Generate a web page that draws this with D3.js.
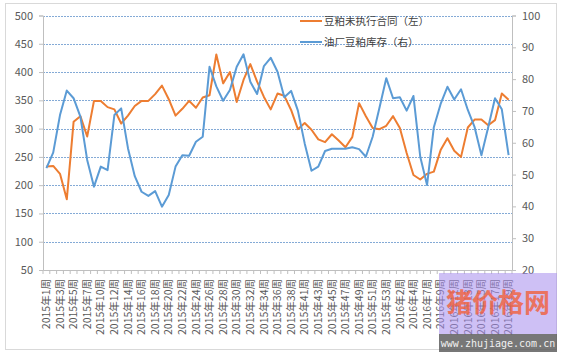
<!DOCTYPE html>
<html><head><meta charset="utf-8">
<script src="https://cdn.jsdelivr.net/npm/d3@7/dist/d3.min.js"></script>
<style>
html,body{margin:0;padding:0;background:#fff;}
svg{display:block;}
text{font-family:"Microsoft YaHei","Noto Sans CJK SC","Noto Sans",sans-serif;}
</style></head>
<body>
<svg id="chart" width="564" height="358"></svg>
<script>
const categories = [
 "2015年1周","2015年2周","2015年3周","2015年4周","2015年5周","2015年6周","2015年7周","2015年9周",
 "2015年10周","2015年11周","2015年12周","2015年13周","2015年14周","2015年15周","2015年16周","2015年17周",
 "2015年18周","2015年19周","2015年20周","2015年21周","2015年22周","2015年23周","2015年24周","2015年25周",
 "2015年26周","2015年27周","2015年28周","2015年29周","2015年30周","2015年31周","2015年32周","2015年33周",
 "2015年34周","2015年35周","2015年36周","2015年37周","2015年38周","2015年39周","2015年41周","2015年42周",
 "2015年43周","2015年44周","2015年45周","2015年46周","2015年47周","2015年48周","2015年49周","2015年50周",
 "2015年51周","2015年52周","2015年53周","2016年1周","2016年2周","2016年3周","2016年4周","2016年5周",
 "2016年7周","2016年8周","2016年9周","2016年10周","2016年11周","2016年12周","2016年13周","2016年14周",
 "2016年15周","2016年16周","2016年17周","2016年18周","2016年19周"
];
const contracts = [233,234,220,175,312,322,286,349,349,338,
 334,309,323,340,349,349,361,376,352,323,
 335,349,337,355,359,431,380,400,347,386,
 414,383,356,334,362,358,333,299,310,298,
 281,276,290,279,267,285,345,322,301,299,
 305,322,301,257,218,210,220,224,262,283,
 261,250,302,316,316,306,315,362,351];
const stocks = [52.0,56.9,68.7,76.4,74.0,68.2,54.6,46.2,52.5,51.4,
 68.7,70.8,58.3,49.5,44.6,43.3,44.8,39.9,43.6,52.5,
 56.1,55.9,60.3,61.9,83.9,77.7,73.2,76.6,83.9,87.8,
 79.2,75.3,84.1,86.7,82.3,74.3,76.3,70.1,59.8,51.2,
 52.5,57.4,58.1,58.1,58.1,58.6,58.0,55.6,61.9,71.0,
 80.3,74.0,74.3,70.1,74.7,55.6,46.7,64.9,72.2,77.6,
 73.6,76.8,70.3,64.9,56.1,64.9,74.0,70.5,56.1];
const leftTicks = [50,100,150,200,250,300,350,400,450,500];
const rightTicks = [20,30,40,50,60,70,80,90,100];
const seriesNames = ["豆粕未执行合同（左）","油厂豆粕库存（右）"];
const xTickLabels = categories.filter((d,i)=>i%2===0);

const svg = d3.select("#chart");
const L=43, R=512, T=15.5, B=270;
const x = d3.scaleBand().domain(categories).range([L,R]);
const yL = d3.scaleLinear().domain([50,500]).range([B,T]);
const yR = d3.scaleLinear().domain([20,100]).range([B,T]);
const cx = c => x(c)+x.bandwidth()/2;

// outer frame
svg.append("rect").attr("x",5.5).attr("y",3.5).attr("width",551).attr("height",346)
  .attr("fill","#fff").attr("stroke","#d9d9d9");

// gridlines
svg.append("g").selectAll("line").data(leftTicks.filter(d=>d>50)).join("line")
  .attr("x1",L).attr("x2",R).attr("y1",d=>Math.round(yL(d))+0.5).attr("y2",d=>Math.round(yL(d))+0.5)
  .attr("stroke","#84aad6").attr("stroke-width",1).attr("stroke-dasharray","2,1");

// left axis
const gl = svg.append("g").attr("transform",`translate(${L},0)`)
  .call(d3.axisLeft(yL).tickValues(leftTicks).tickSize(4).tickPadding(6));
gl.select(".domain").attr("stroke","#bfbfbf");
gl.selectAll(".tick line").attr("stroke","#bfbfbf");
gl.selectAll("text").attr("fill","#595959").style("font-size","11px");

// right axis
const gr = svg.append("g").attr("transform",`translate(${R},0)`)
  .call(d3.axisRight(yR).tickValues(rightTicks).tickSize(4).tickPadding(6));
gr.select(".domain").attr("stroke","#bfbfbf");
gr.selectAll(".tick line").attr("stroke","#bfbfbf");
gr.selectAll("text").attr("fill","#595959").style("font-size","11px");

// x axis
const gx = svg.append("g").attr("transform",`translate(0,${B})`)
  .call(d3.axisBottom(x).tickValues(xTickLabels).tickSize(0));
gx.select(".domain").attr("stroke","#bfbfbf");
gx.selectAll("text").attr("fill","#595959").style("font-size","10.5px")
  .attr("transform","rotate(-90)").attr("text-anchor","end")
  .attr("x",-9).attr("y",0).attr("dy","0.35em");
svg.append("g").selectAll("line").data(categories.concat(["__end"])).join("line")
  .attr("x1",d=>d==="__end"?R:x(d)).attr("x2",d=>d==="__end"?R:x(d))
  .attr("y1",B).attr("y2",B+4).attr("stroke","#bfbfbf");

// lines
const lineL = d3.line().x((d,i)=>cx(categories[i])).y(d=>yL(d));
const lineR = d3.line().x((d,i)=>cx(categories[i])).y(d=>yR(d));
svg.append("path").datum(contracts).attr("d",lineL).attr("fill","none")
  .attr("stroke","#ED7D31").attr("stroke-width",2).attr("stroke-linejoin","round");
svg.append("path").datum(stocks).attr("d",lineR).attr("fill","none")
  .attr("stroke","#5B9BD5").attr("stroke-width",2).attr("stroke-linejoin","round");

// legend
const colors = ["#ED7D31","#5B9BD5"];
const lg = svg.append("g");
seriesNames.forEach((n,i)=>{
  const yy = 21 + i*21;
  lg.append("line").attr("x1",300).attr("x2",322).attr("y1",yy).attr("y2",yy)
    .attr("stroke",colors[i]).attr("stroke-width",2);
  lg.append("text").attr("x",324).attr("y",yy).attr("dy","0.35em")
    .attr("fill","#404040").style("font-size","10.5px").text(n);
});

// watermark
const wm = svg.append("g");
wm.append("rect").attr("x",439).attr("y",273).attr("width",118).attr("height",61)
  .attr("fill","#a68cec").attr("opacity",0.55);
wm.append("text").attr("x",498).attr("y",303).attr("dy","0.35em").attr("text-anchor","middle")
  .attr("fill","#f2603c").attr("opacity",0.8).style("font-size","26px").style("font-weight","bold")
  .text("猪价格网");
wm.append("rect").attr("x",439).attr("y",334).attr("width",118).attr("height",18)
  .attr("fill","#555").attr("opacity",0.8);
wm.append("text").attr("x",498).attr("y",343).attr("dy","0.35em").attr("text-anchor","middle")
  .attr("fill","#f0f0f0").style("font-family","DejaVu Sans Mono,monospace").style("font-size","10px")
  .text("www.zhujiage.com.cn");
</script>
</body></html>
